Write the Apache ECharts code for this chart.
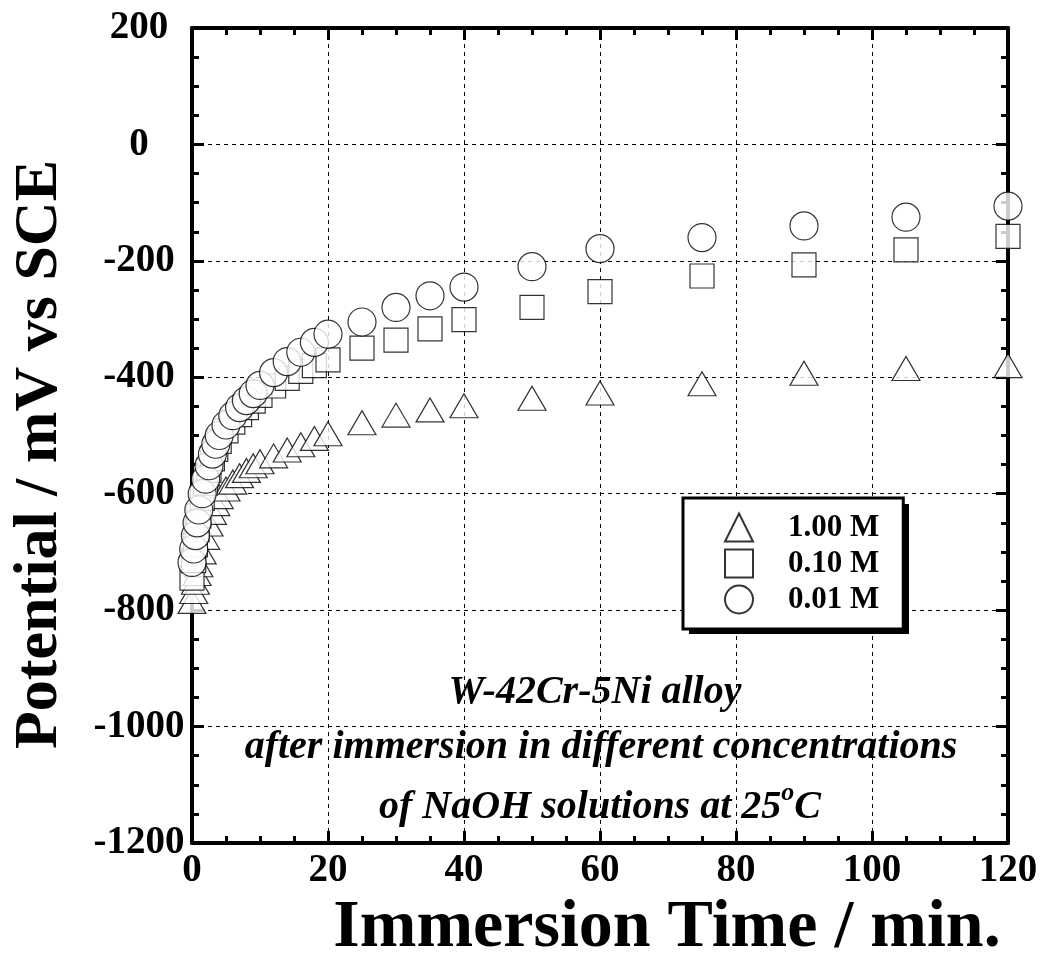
<!DOCTYPE html>
<html>
<head>
<meta charset="utf-8">
<script src="https://cdn.jsdelivr.net/npm/echarts@6/dist/echarts.min.js"></script>
<style>
  html, body { margin: 0; padding: 0; background: #fff; }
  #chart { width: 1042px; height: 959px; }
</style>
</head>
<body>
<div id="chart"></div>
<script>
// immersion time (min)
var times = [0, 0.25, 0.5, 0.75, 1, 1.5, 2, 2.5, 3, 3.5, 4, 5, 6, 7, 8, 9, 10, 12, 14, 16, 18, 20,
  25, 30, 35, 40, 50, 60, 75, 90, 105, 120];
// potential (mV vs SCE)
var naoh_100 = [-785, -768, -752, -737, -722, -700, -675, -652, -632, -617, -605, -592, -580, -569, -560, -552,
  -545, -535, -525, -516, -505, -497, -478, -465, -456, -449, -436, -427, -411, -393, -385, -380];
var naoh_010 = [-745, -715, -688, -662, -638, -608, -582, -560, -540, -524, -510, -492, -477, -464, -452, -441,
  -431, -415, -402, -390, -380, -370, -350, -336, -317, -301, -280, -253, -226, -207, -181, -158];
var naoh_001 = [-718, -695, -672, -650, -628, -600, -575, -552, -532, -515, -500, -482, -466, -452, -440, -428,
  -414, -392, -373, -357, -340, -326, -305, -280, -260, -245, -210, -179, -160, -140, -125, -106];
var legend_names = ['1.00 M', '0.10 M', '0.01 M'];

var FONT = "'Liberation Serif', 'Times New Roman', serif";

function pairs(ys) {
  return ys.map(function (y, i) { return [times[i], y]; });
}

function axisBase(show_label) {
  return {
    axisLine: { show: true, onZero: false, lineStyle: { color: '#000', width: 4 } },
    axisTick: { show: true, inside: true, length: 12, lineStyle: { color: '#000', width: 3 } },
    minorTick: { show: true, splitNumber: 4, length: 7, lineStyle: { color: '#000', width: 3 } },
    axisLabel: {
      show: show_label, color: '#000', fontFamily: FONT, fontWeight: 'bold', fontSize: 39,
      formatter: function (v) { return String(v); }
    },
    splitLine: { show: false }
  };
}

var x_main = Object.assign(axisBase(true), {
  type: 'value', min: 0, max: 120, interval: 20, position: 'bottom',
  name: 'Immersion Time / min.', nameLocation: 'middle', nameGap: 42,
  nameTextStyle: {
    color: '#000', fontFamily: FONT, fontWeight: 'bold', fontSize: 68, verticalAlign: 'top',
    padding: [0, 0, 0, 134]
  },
  splitLine: { show: true, lineStyle: { color: '#000', width: 1, type: [4, 4] } }
});
x_main.axisLabel.margin = 8;
var x_top = Object.assign(axisBase(false), { type: 'value', min: 0, max: 120, interval: 20, position: 'top' });

var y_main = Object.assign(axisBase(true), {
  type: 'value', min: -1200, max: 200, interval: 200, position: 'left',
  name: 'Potential / mV vs SCE', nameLocation: 'middle', nameGap: 152,
  nameTextStyle: {
    color: '#000', fontFamily: FONT, fontWeight: 'bold', fontSize: 62, verticalAlign: 'middle',
    padding: [0, 38, 0, 0]
  },
  splitLine: { show: true, lineStyle: { color: '#000', width: 1, type: [4, 4] } }
});
y_main.axisLabel.align = 'center';
y_main.axisLabel.margin = 53;
var y_right = Object.assign(axisBase(false), { type: 'value', min: -1200, max: 200, interval: 200, position: 'right' });

var mark_style = { color: '#fff', borderColor: '#000', borderWidth: 1.2 };

var option = {
  backgroundColor: '#fff',
  animation: false,
  grid: { left: 192, right: 34, top: 28, bottom: 116, outerBoundsMode: 'none', containLabel: false },
  xAxis: [x_main, x_top],
  yAxis: [y_main, y_right],
  legend: {
    orient: 'vertical', left: 683, top: 498, z: 10,
    itemWidth: 28, itemHeight: 28, itemGap: 5,
    padding: [14, 24, 14, 41],
    backgroundColor: '#fff', borderColor: '#000', borderWidth: 3,
    textStyle: {
      color: '#000', fontFamily: FONT, fontWeight: 'bold', fontSize: 31,
      padding: [0, 0, 0, 30]
    },
    data: legend_names
  },
  graphic: [
    {
      // legend drop shadow
      type: 'rect', z: 9, silent: true,
      shape: { x: 689, y: 504, width: 220, height: 130 },
      style: { fill: '#000' }
    },
    {
      type: 'text', x: 595, y: 693, z: 10,
      style: {
        text: 'W-42Cr-5Ni alloy', fill: '#000',
        font: 'italic bold 40px ' + FONT, align: 'center', verticalAlign: 'middle'
      }
    },
    {
      type: 'text', x: 601, y: 748, z: 10,
      style: {
        text: 'after immersion in different concentrations', fill: '#000',
        font: 'italic bold 40px ' + FONT, align: 'center', verticalAlign: 'middle'
      }
    },
    {
      type: 'text', x: 600, y: 808, z: 10,
      style: {
        text: 'of NaOH solutions at 25{sup|o}C', fill: '#000',
        font: 'italic bold 40px ' + FONT, align: 'center', verticalAlign: 'middle',
        rich: {
          sup: { font: 'italic bold 26px ' + FONT, fill: '#000', verticalAlign: 'top', padding: [0, 0, 30, 0] }
        }
      }
    }
  ],
  series: [
    {
      name: legend_names[0], type: 'scatter', symbol: 'triangle', symbolSize: [28, 24],
      itemStyle: mark_style, data: pairs(naoh_100)
    },
    {
      name: legend_names[1], type: 'scatter', symbol: 'rect', symbolSize: 24,
      itemStyle: mark_style, data: pairs(naoh_010)
    },
    {
      name: legend_names[2], type: 'scatter', symbol: 'circle', symbolSize: 28,
      itemStyle: mark_style, data: pairs(naoh_001)
    }
  ]
};

var chart = echarts.init(document.getElementById('chart'));
chart.setOption(option);
window.addEventListener('resize', function () { chart.resize(); });
</script>
</body>
</html>
